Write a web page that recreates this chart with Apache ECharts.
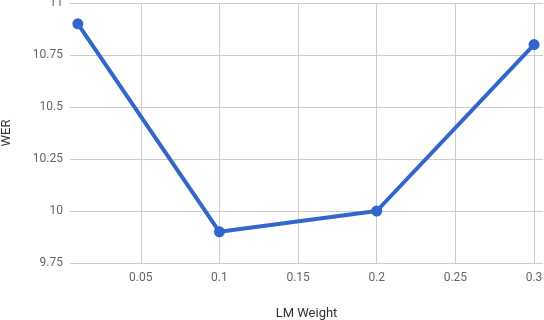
<!DOCTYPE html>
<html>
<head>
<meta charset="utf-8">
<script src="https://cdn.jsdelivr.net/npm/echarts@6/dist/echarts.min.js"></script>
<style>html,body{margin:0;padding:0;background:#fff}#c{width:544px;height:320px}</style>
</head>
<body>
<div id="c"></div>
<script>
const lmWeights = [0.01, 0.1, 0.2, 0.3];
const werValues = [10.9, 9.9, 10.0, 10.8];
const xTicks = [0.05, 0.1, 0.15, 0.2, 0.25, 0.3];
const yTicks = [9.75, 10, 10.25, 10.5, 10.75, 11];

const chart = echarts.init(document.getElementById('c'), null, {renderer: 'canvas'});
chart.setOption({
  animation: false,
  textStyle: {fontFamily: 'Roboto'},
  grid: {left: 70, right: 1, top: 3, bottom: 57, containLabel: false, outerBoundsMode: 'none'},
  xAxis: {
    type: 'value',
    min: 0.005, max: 0.3057,
    name: 'LM Weight',
    nameLocation: 'middle',
    nameGap: 44,
    nameTextStyle: {color: '#333', fontSize: 13, fontFamily: 'Roboto'},
    axisLine: {show: false},
    axisTick: {show: false, customValues: xTicks},
    axisLabel: {customValues: xTicks, color: '#666', fontSize: 12, margin: 9, formatter: v => String(+v.toFixed(3))},
    splitLine: {show: true, lineStyle: {color: '#cccccc', width: 1}}
  },
  yAxis: {
    type: 'value',
    min: yTicks[0], max: yTicks[yTicks.length-1], interval: 0.25,
    name: 'WER',
    nameLocation: 'middle',
    nameGap: 57,
    nameTextStyle: {color: '#333', fontSize: 13, fontFamily: 'Roboto'},
    axisLine: {show: false},
    axisTick: {show: false},
    axisLabel: {color: '#666', fontSize: 12, margin: 7},
    splitLine: {show: true, lineStyle: {color: '#cccccc', width: 1}}
  },
  series: [{
    type: 'line',
    data: lmWeights.map((x, i) => [x, werValues[i]]),
    symbol: 'circle',
    symbolSize: 11,
    lineStyle: {color: '#3366cc', width: 4},
    itemStyle: {color: '#3366cc'}
  }]
});
</script>
</body>
</html>
